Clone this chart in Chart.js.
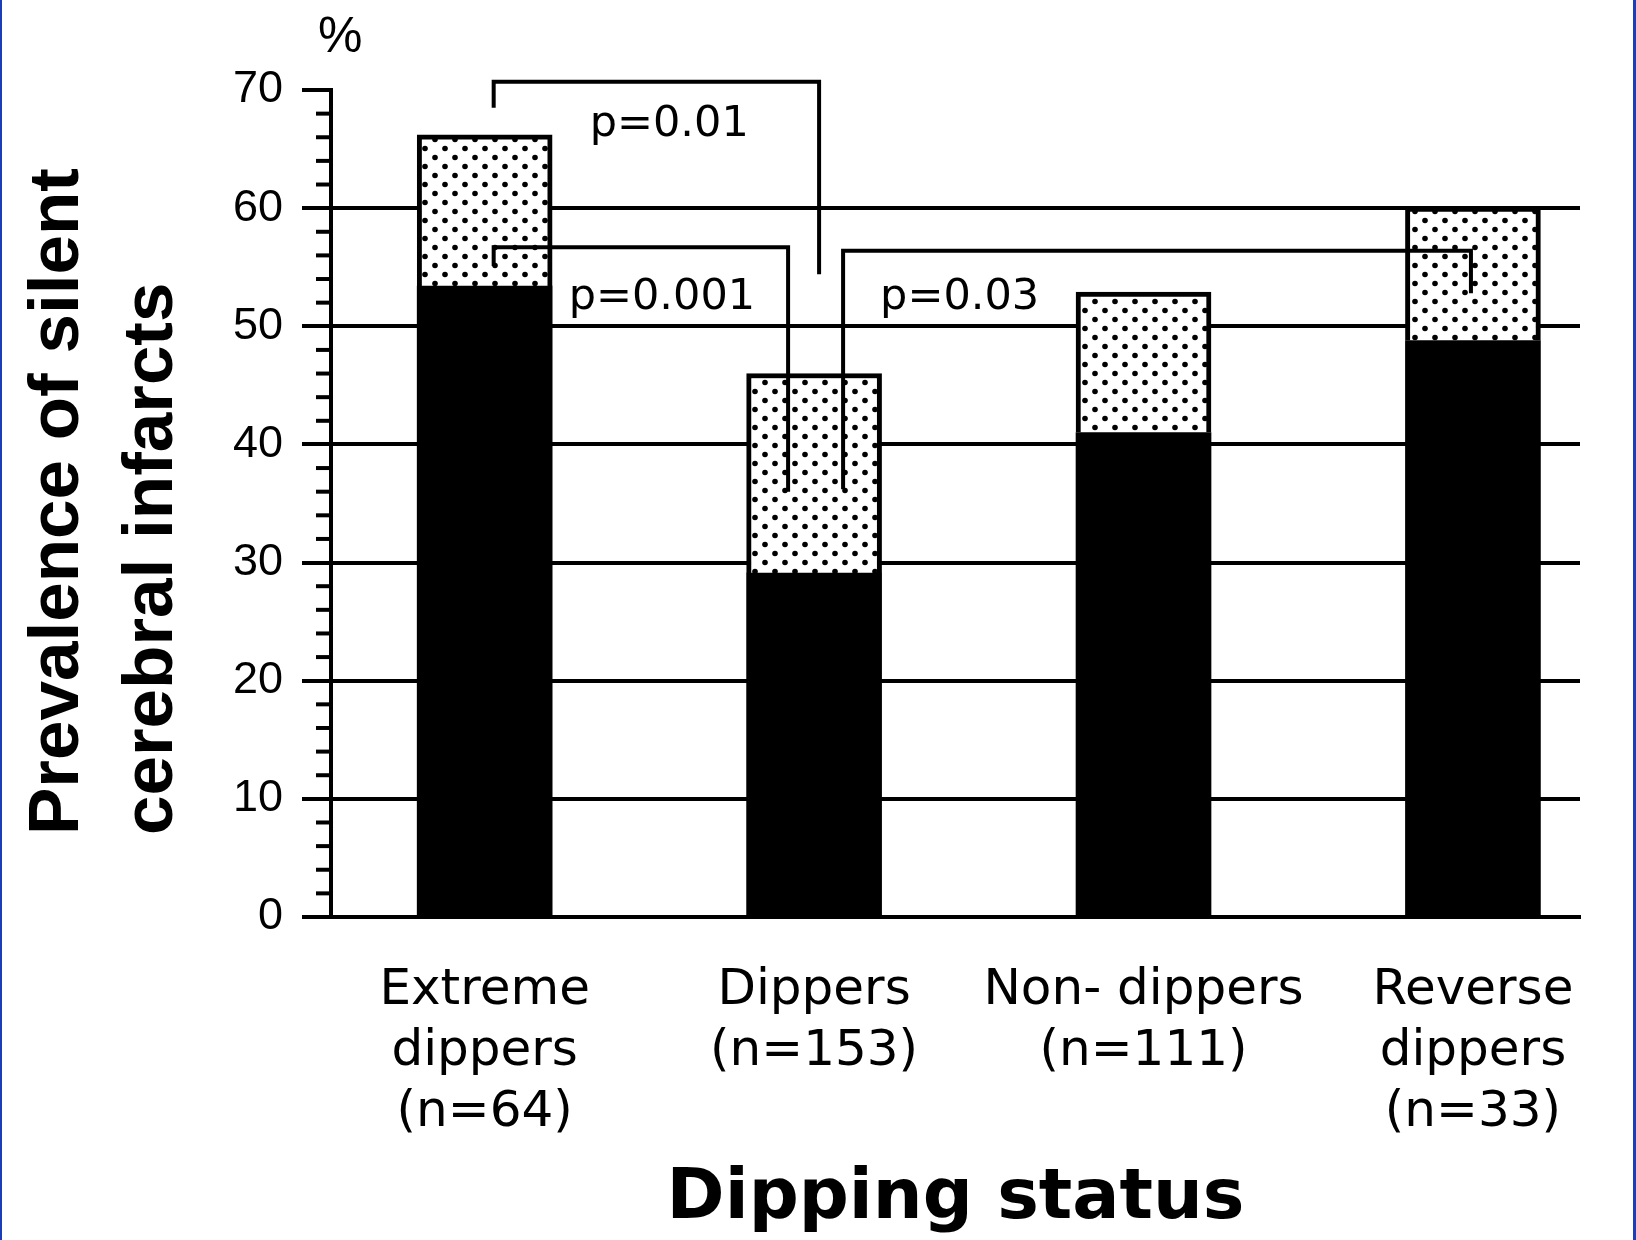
<!DOCTYPE html>
<html>
<head>
<meta charset="utf-8">
<title>Prevalence of silent cerebral infarcts by dipping status</title>
<script src="https://cdn.jsdelivr.net/npm/chart.js@4/dist/chart.umd.min.js"></script>
<style>
  html, body { margin: 0; padding: 0; background: #fff; }
  #wrap { position: relative; width: 1636px; height: 1240px; overflow: hidden; background: #fff; }
  #wrap::before, #wrap::after { content: ''; position: absolute; top: 0; bottom: 0; background: #1b3db8; z-index: 2; }
  #wrap::before { left: 0; width: 2px; }
  #wrap::after { right: 0; width: 3px; }
  canvas { display: block; }
</style>
</head>
<body>
<div id="wrap"><canvas id="chart" width="1636" height="1240"></canvas></div>
<script>
// Groups along the x axis (multi-line tick labels)
const categories = [
  ['Extreme', 'dippers', '(n=64)'],
  ['Dippers', '(n=153)'],
  ['Non- dippers', '(n=111)'],
  ['Reverse', 'dippers', '(n=33)']
];

// Prevalence (%) : solid lower segment and dotted upper segment of each stacked bar
const solidPct  = [53.4, 29.1, 41.0, 48.8];
const dottedPct = [12.8, 16.9, 11.9, 11.3];

// Value axis
const yMin = 0;
const yMax = 70;
const yMajorStep = 10;
const yMinorStep = 2;

// Pairwise comparisons drawn as brackets
const compLabels   = ['p=0.01', 'p=0.001', 'p=0.03'];
const compFrom     = [0, 0, 1];
const compTo       = [1, 1, 3];
const compLevel    = [70.7, 56.7, 56.4];   // height of the horizontal bar
const compFromEnd  = [68.5, 55.1, 36.2];   // lower end of left leg
const compToEnd    = [54.4, 36.0, 52.8];   // lower end of right leg
const compTextBase = [66.1, 51.5, 51.5];   // baseline of the p-value text

const yTitleLines = ['Prevalence of silent', 'cerebral infarcts'];
const xTitle = 'Dipping status';
const unitLabel = '%';

// Layout / styling (pixels)
const STYLE = {
  barThickness: 135,
  bracketDx: [[9, 5], [9, -26], [29, -2]],
  textDx: [96, 75, 37],
  lineWidth: 4,
  minorTickLen: 15,
  yTitleX: 78, yTitleGap: 94, yTitleStart: 835,
};

function dotPattern() {
  const t = document.createElement('canvas');
  t.width = 20; t.height = 18;
  const g = t.getContext('2d');
  g.fillStyle = '#fff';
  g.fillRect(0, 0, 20, 18);
  g.fillStyle = '#000';
  [[5, 4.5], [15, 13.5]].forEach(([x, y]) => {
    g.beginPath(); g.arc(x, y, 2.8, 0, Math.PI * 2); g.fill();
  });
  return g.createPattern(t, 'repeat');
}

const minorTicks = {
  id: 'minorTicks',
  afterDraw(chart) {
    const y = chart.scales.y, ctx = chart.ctx;
    ctx.save();
    ctx.strokeStyle = '#000';
    ctx.lineWidth = 4;
    y.ticks.forEach(t => {
      if (t.value % yMajorStep === 0) return;
      const py = y.getPixelForValue(t.value);
      ctx.beginPath();
      ctx.moveTo(y.right - STYLE.minorTickLen, py);
      ctx.lineTo(y.right, py);
      ctx.stroke();
    });
    ctx.restore();
  }
};

const brackets = {
  id: 'brackets',
  afterDatasetsDraw(chart) {
    const x = chart.scales.x, y = chart.scales.y, ctx = chart.ctx;
    ctx.save();
    ctx.strokeStyle = '#000';
    ctx.lineWidth = STYLE.lineWidth;
    ctx.lineCap = 'butt';
    ctx.lineJoin = 'miter';
    ctx.fillStyle = '#000';
    ctx.font = '43px "DejaVu Sans"';
    ctx.textAlign = 'left';
    ctx.textBaseline = 'alphabetic';
    compLabels.forEach((label, i) => {
      const x1 = x.getPixelForValue(compFrom[i]) + STYLE.bracketDx[i][0];
      const x2 = x.getPixelForValue(compTo[i]) + STYLE.bracketDx[i][1];
      const yl = y.getPixelForValue(compLevel[i]);
      ctx.beginPath();
      ctx.moveTo(x1, y.getPixelForValue(compFromEnd[i]));
      ctx.lineTo(x1, yl);
      ctx.lineTo(x2, yl);
      ctx.lineTo(x2, y.getPixelForValue(compToEnd[i]));
      ctx.stroke();
      ctx.fillText(label, x1 + STYLE.textDx[i], y.getPixelForValue(compTextBase[i]));
    });
    ctx.restore();
  }
};

const axisTexts = {
  id: 'axisTexts',
  afterDraw(chart) {
    const ctx = chart.ctx, area = chart.chartArea;
    ctx.save();
    ctx.fillStyle = '#000';
    ctx.textAlign = 'left';
    ctx.textBaseline = 'alphabetic';
    ctx.font = '50px "Liberation Sans"';
    ctx.fillText(unitLabel, area.left - 13, area.top - 38);
    ctx.font = 'bold 71px "Liberation Sans"';
    yTitleLines.forEach((line, i) => {
      ctx.save();
      ctx.translate(STYLE.yTitleX + i * STYLE.yTitleGap, STYLE.yTitleStart);
      ctx.rotate(-Math.PI / 2);
      ctx.fillText(line, 0, 0);
      ctx.restore();
    });
    ctx.restore();
  }
};

function build() {
  new Chart(document.getElementById('chart'), {
    type: 'bar',
    data: {
      datasets: [
        {
          label: 'solid',
          data: solidPct.map((v, i) => ({ x: i, y: v })),
          backgroundColor: '#000',
          borderWidth: 0,
          barThickness: STYLE.barThickness
        },
        {
          label: 'dotted',
          data: dottedPct.map((v, i) => ({ x: i, y: v })),
          backgroundColor: dotPattern(),
          borderColor: '#000',
          borderWidth: 5,
          borderSkipped: 'bottom',
          barThickness: STYLE.barThickness
        }
      ]
    },
    options: {
      responsive: false,
      animation: false,
      devicePixelRatio: 1,
      layout: { padding: { top: 90, right: 56, left: 0, bottom: 0 } },
      plugins: { legend: { display: false }, tooltip: { enabled: false } },
      scales: {
        x: {
          type: 'linear',
          stacked: true,
          min: -0.4665,
          max: 3.325,
          offset: false,
          afterBuildTicks: s => { s.ticks = categories.map((_, i) => ({ value: i })); },
          afterFit: s => { s.height = 323; },
          grid: { display: false, drawTicks: false },
          border: { display: true, color: '#000', width: 4 },
          ticks: {
            autoSkip: false, maxRotation: 0, minRotation: 0,
            padding: 44, color: '#000',
            font: { family: 'DejaVu Sans', size: 50, lineHeight: '61px' },
            callback: v => categories[v]
          },
          title: {
            display: true, text: xTitle, color: '#000',
            font: { family: 'DejaVu Sans', weight: 'bold', size: 70, lineHeight: 1 },
            padding: { top: 0, bottom: 5 }
          }
        },
        y: {
          stacked: true,
          min: yMin,
          max: yMax,
          afterFit: s => { s.width = 331; },
          ticks: {
            stepSize: yMinorStep, autoSkip: false, padding: 19, color: '#000',
            font: { family: 'Liberation Sans', size: 45 },
            callback: v => (v % yMajorStep === 0 ? String(v) : '')
          },
          grid: {
            color: c => (c.tick && c.tick.value % yMajorStep === 0 && c.tick.value > yMin && c.tick.value < yMax) ? '#000' : 'rgba(0,0,0,0)',
            lineWidth: 4,
            tickLength: 29,
            tickWidth: 4,
            tickColor: c => (c.tick && c.tick.value % yMajorStep === 0) ? '#000' : 'rgba(0,0,0,0)'
          },
          border: { display: true, color: '#000', width: 4 }
        }
      }
    },
    plugins: [minorTicks, brackets, axisTexts]
  });
}

const fontLoads = [
  '50px "DejaVu Sans"', 'bold 70px "DejaVu Sans"',
  '45px "Liberation Sans"', 'bold 71px "Liberation Sans"'
].map(f => document.fonts.load(f).catch(() => null));
Promise.all(fontLoads).then(build, build);
</script>
</body>
</html>
